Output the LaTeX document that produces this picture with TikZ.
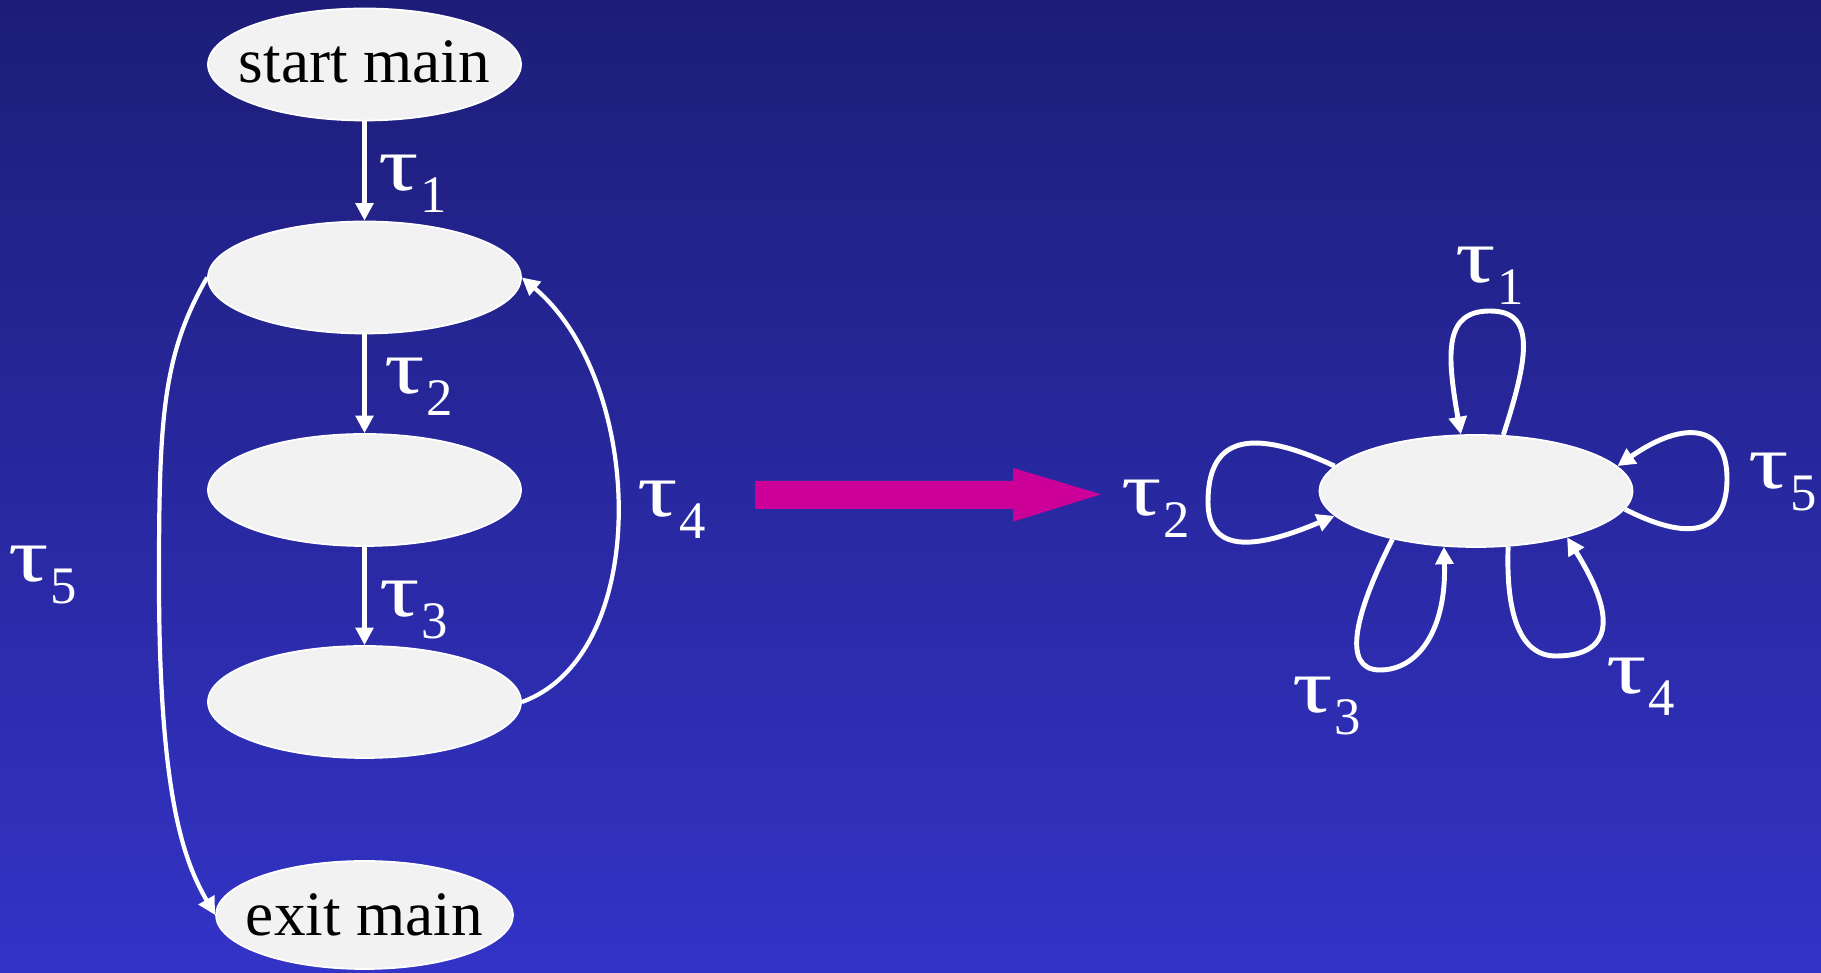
\documentclass[tikz,border=0pt]{standalone}
\usepackage{fontspec}
\setmainfont{Liberation Serif}
\usetikzlibrary{arrows.meta,shapes.geometric}

\definecolor{bgtop}{RGB}{29,29,120}
\definecolor{bgbot}{RGB}{51,51,199}
\definecolor{blob}{RGB}{242,242,242}
\definecolor{pinkarrow}{RGB}{204,0,153}

% tau with a digit below the line
\newcommand{\taulab}[1]{\scalebox{1.3}[1]{τ}\kern0.5pt\raisebox{-0.22cm}{\fontsize{15}{15}\selectfont #1}}

\tikzset{
  state/.style={ellipse,fill=blob,draw=white,line width=0.5pt,
    minimum width=3.13cm,minimum height=1.12cm,inner xsep=-0.2cm,inner ysep=0pt,
    font=\fontsize{18}{18}\selectfont},
  flow/.style={draw=white,line width=1.2pt,-{Triangle[length=5pt,width=5pt]}},
  selfloop/.style={flow,line width=1.4pt},
  lab/.style={text=white,inner sep=0pt,font=\fontsize{22}{22}\selectfont},
}

\begin{document}
\begin{tikzpicture}

    % background
    \shade[top color=bgtop,bottom color=bgbot] (0,0) rectangle (18.21,9.73);
    \useasboundingbox (0,0) rectangle (18.21,9.73);

    % graph of main
    \node[state] (start) at (3.645,9.085) {\raisebox{0.05cm}{start main}};
    \foreach \i/\y in {1/6.955,2/4.83,3/2.71}
        \node[state] (s\i) at (3.645,\y) {};
    \node[state,minimum width=2.97cm,minimum height=1.08cm] (exit) at (3.645,0.58) {exit main};

    \draw[flow] (start) -- (s1);
    \draw[flow] (s1) -- (s2);
    \draw[flow] (s2) -- (s3);
    \draw[flow] (s3.east) .. controls +(20:1.4) and +(-40:1.6) .. (s1.east);

    % back edge round the left side
    \coordinate (bend) at (1.59,3.93);
    \draw[flow] (s1.west) .. controls +(240:0.9) and +(90:1.6) .. (bend)
        .. controls +(-90:2.2) and +(120:0.6) .. (exit.west);

    \node[lab] (t1) at (4.13,7.895) {\taulab{1}};
    \node[lab] (t2) at (4.19,5.865) {\taulab{2}};
    \node[lab] (t3) at (4.14,3.63) {\taulab{3}};
    \node[lab] (t4) at (6.715,4.63) {\taulab{4}};
    \node[lab] (t5) at (0.425,3.975) {\taulab{5}};

    % block arrow
    \fill[pinkarrow] (7.55,4.64) -- (10.13,4.64) -- (10.13,4.513) -- (11.01,4.787)
        -- (10.13,5.05) -- (10.13,4.92) -- (7.55,4.92) -- cycle;

    % one state, five self loops
    \node[state] (one) at (14.76,4.82) {};

    \draw[selfloop] (one.64) .. controls +(72:0.85) and +(0:0.45) .. ([shift={(0.14,1.8)}]one.center)
        .. controls +(180:0.45) and +(100:0.85) .. (one.105);
    \draw[selfloop] (one.170) .. controls +(155:1.0) and +(90:0.6) .. ([shift={(-2.68,-0.11)}]one.center)
        .. controls +(-90:0.5) and +(203:0.9) .. (one.190);
    \draw[selfloop] (one.210) .. controls +(243:0.8) and +(180:0.4) .. ([shift={(-0.96,-1.79)}]one.center)
        .. controls +(0:0.4) and +(-88:0.8) .. (one.240);
    \draw[selfloop] (one.300) .. controls +(-92:0.7) and +(180:0.35) .. ([shift={(0.8,-1.65)}]one.center)
        .. controls +(0:0.45) and +(-58:1.1) .. (one.333);
    \draw[selfloop] (one.353) .. controls +(-27:0.8) and +(-90:0.5) .. ([shift={(2.51,0.125)}]one.center)
        .. controls +(90:0.55) and +(35:0.8) .. (one.10);

    \node[lab] (r1) at (14.90,6.97) {\taulab{1}};
    \node[lab] (r2) at (11.56,4.645) {\taulab{2}};
    \node[lab] (r3) at (13.265,2.67) {\taulab{3}};
    \node[lab] (r4) at (16.405,2.865) {\taulab{4}};
    \node[lab] (r5) at (17.83,4.91) {\taulab{5}};

\end{tikzpicture}
\end{document}
